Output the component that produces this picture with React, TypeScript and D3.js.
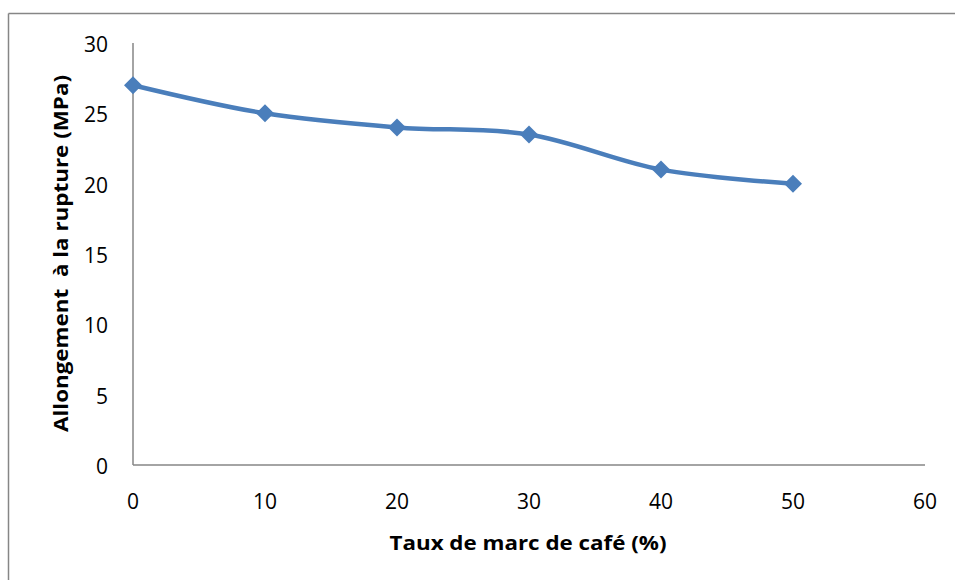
import React from "react";
import * as d3 from "d3";

const tauxMarc = [0, 10, 20, 30, 40, 50];
const allongement = [27, 25, 24, 23.5, 21, 20];
const xTicks = [0, 10, 20, 30, 40, 50, 60];
const yTicks = [0, 5, 10, 15, 20, 25, 30];
const xTitle = "Taux de marc de café (%)";
const yTitle = "Allongement  à la rupture (MPa)";

const W = 955;
const H = 580;
const FONT = "'Open Sans', 'Liberation Sans', sans-serif";

export default function App() {
  const x = d3.scaleLinear().domain([0, 60]).range([133, 925]);
  const y = d3.scaleLinear().domain([0, 30]).range([465, 43]);
  const pts = tauxMarc.map((t, i) => [t, allongement[i]] as [number, number]);
  const line = d3
    .line<[number, number]>()
    .x((d) => x(d[0]))
    .y((d) => y(d[1]))
    .curve(d3.curveCatmullRom.alpha(0));
  const axisColor = "#868686";
  const blue = "#4a7ebb";
  const r = 9;

  return (
    <svg
      width={W}
      height={H}
      style={{ position: "absolute", left: 0, top: 0, background: "#fff" }}
    >
      {/* outer chart frame */}
      <line x1={8.5} y1={13.5} x2={W} y2={13.5} stroke={axisColor} strokeWidth={1.5} />
      <line x1={8.5} y1={13.5} x2={8.5} y2={H} stroke={axisColor} strokeWidth={1.5} />

      {/* axes */}
      <line x1={x(0)} y1={y(30)} x2={x(0)} y2={y(0)} stroke={axisColor} strokeWidth={1.5} />
      <line x1={x(0)} y1={y(0)} x2={x(60)} y2={y(0)} stroke={axisColor} strokeWidth={1.5} />

      {yTicks.map((t) => (
        <text
          key={"y" + t}
          x={108}
          y={y(t) + 1}
          textAnchor="end"
          dominantBaseline="central"
          fontFamily={FONT}
          fontSize={21}
          fill="#000"
        >
          {t}
        </text>
      ))}
      {xTicks.map((t) => (
        <text
          key={"x" + t}
          x={x(t)}
          y={501}
          textAnchor="middle"
          dominantBaseline="central"
          fontFamily={FONT}
          fontSize={21}
          fill="#000"
        >
          {t}
        </text>
      ))}

      <text
        x={528}
        y={543}
        textAnchor="middle"
        dominantBaseline="central"
        fontFamily={FONT}
        fontSize={19}
        fontWeight="bold"
        textLength={277}
        lengthAdjust="spacingAndGlyphs"
      >
        {xTitle}
      </text>
      <text
        transform={`translate(61,${253.5}) rotate(-90)`}
        textAnchor="middle"
        dominantBaseline="central"
        fontFamily={FONT}
        fontSize={19}
        fontWeight="bold"
        textLength={357}
        lengthAdjust="spacingAndGlyphs"
        style={{ whiteSpace: "pre" }}
      >
        {yTitle}
      </text>

      <path d={line(pts) ?? ""} fill="none" stroke={blue} strokeWidth={4.5} strokeLinejoin="round" />
      {pts.map((d, i) => (
        <path
          key={i}
          d={`M${x(d[0])},${y(d[1]) - r}L${x(d[0]) + r},${y(d[1])}L${x(d[0])},${y(d[1]) + r}L${x(d[0]) - r},${y(d[1])}Z`}
          fill={blue}
        />
      ))}
    </svg>
  );
}
